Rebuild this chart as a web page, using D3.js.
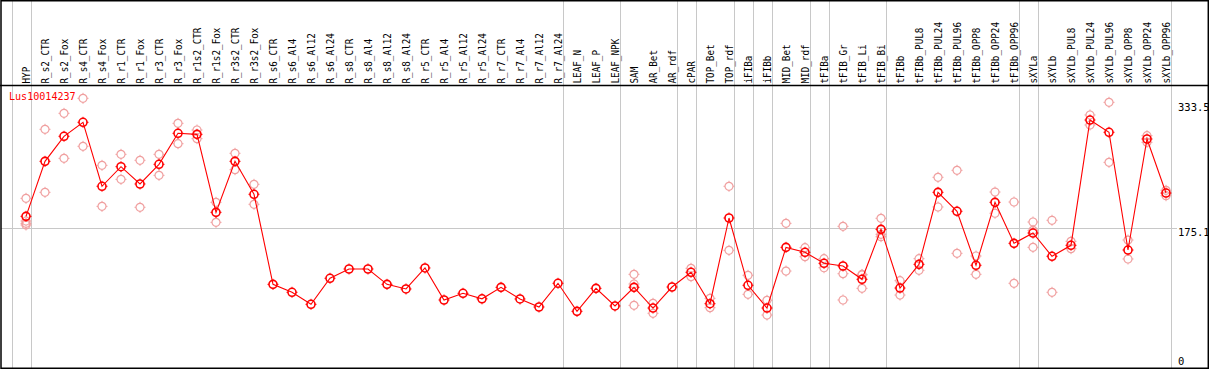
<!DOCTYPE html>
<html><head><meta charset="utf-8">
<script src="https://cdn.jsdelivr.net/npm/d3@7/dist/d3.min.js"></script>
<style>body{margin:0;background:#fff}svg{display:block}</style>
</head><body>
<svg id="c" width="1209" height="370"></svg>
<script>
const title = "Lus10014237";
const categories = ["HYP","R_s2_CTR","R_s2_Fox","R_s4_CTR","R_s4_Fox","R_r1_CTR","R_r1_Fox","R_r3_CTR","R_r3_Fox","R_r1s2_CTR","R_r1s2_Fox","R_r3s2_CTR","R_r3s2_Fox","R_s6_CTR","R_s6_Al4","R_s6_Al12","R_s6_Al24","R_s8_CTR","R_s8_Al4","R_s8_Al12","R_s8_Al24","R_r5_CTR","R_r5_Al4","R_r5_Al12","R_r5_Al24","R_r7_CTR","R_r7_Al4","R_r7_Al12","R_r7_Al24","LEAF_N","LEAF_P","LEAF_NPK","SAM","AR_Bet","AR_rdf","cPAR","TOP_Bet","TOP_rdf","iFIBa","iFIBb","MID_Bet","MID_rdf","tFIBa","tFIB_Gr","tFIB_Li","tFIB_Bi","tFIBb","tFIBb_PUL8","tFIBb_PUL24","tFIBb_PUL96","tFIBb_OPP8","tFIBb_OPP24","tFIBb_OPP96","sXYLa","sXYLb","sXYLb_PUL8","sXYLb_PUL24","sXYLb_PUL96","sXYLb_OPP8","sXYLb_OPP24","sXYLb_OPP96"];
const meanValues = [190.3,260.2,292.0,309.8,228.5,253.4,231.4,256.4,295.8,294.5,195.4,260.2,218.3,103.9,93.8,78.5,111.6,123.4,123.4,103.9,98.0,124.7,84.0,92.5,85.5,100.1,85.3,75.1,105.2,69.6,98.8,76.4,100.1,73.8,100.5,119.2,79.3,188.2,102.7,73.8,150.9,144.6,130.6,127.2,110.3,173.8,99.2,129.3,220.8,196.7,128.1,208.1,156.0,169.1,139.5,153.5,312.7,297.1,147.5,288.6,219.9];
const replicateValues = [
 [213.2,184.4,181.4,179.3],[300.9,220.8],[321.2,264.0],[340.3,279.3],[255.1,203.0],[269.1,237.3],[261.5,201.8],[269.1,242.4],[308.5,282.6],[300.0,289.0],[208.1,182.7],[270.4,249.6],[231.0,205.6],
 [],[],[],[],[],[],[],[],[],[],[],[],[],[],[],[],[],[],[],
 [116.6,104.3,77.2],[79.8,67.1],[],[124.3,113.6],[86.1,74.2],[228.5,147.1],[115.4,91.2],[83.6,64.9],[181.4,120.8],[150.5,139.0],[136.5,125.0],[177.6,117.4,84.0],[116.5,115.8,98.8],[187.8,167.5,164.4],[108.5,90.3],[136.5,121.7],[239.9,202.2],[248.8,143.3],[139.9,116.6],[221.2,194.2],[208.5,105.2],[183.1,172.5,150.9],[185.3,93.8],[158.6,149.2],[319.1,306.4],[335.2,258.9],[160.2,136.1],[292.8,284.4],[223.4,216.5]
];
const tickValues = [0, 175.1, 333.5];
const tickLabels = ["0", "175.1", "333.5"];
const gridValue = 175.1;
const groupEnds = [-1,0,28,31,34,35,37,38,39,41,42,45,52,53,60];

const W = 1209, H = 370;
const svg = d3.select("#c");
const x = d3.scaleLinear().domain([0, categories.length - 1]).range([26, 1166]);
const y = d3.scaleLinear().domain([0, 357.2]).range([366.1, 85]);
const mono = "'DejaVu Sans Mono', 'Liberation Mono', monospace";

// gridline
svg.append("line").attr("x1", 1).attr("x2", 1177)
  .attr("y1", Math.round(y(gridValue)) + 0.5).attr("y2", Math.round(y(gridValue)) + 0.5)
  .attr("stroke", "#c8c8c8").attr("stroke-width", 1).attr("shape-rendering", "crispEdges");

// group separators
svg.append("g").attr("shape-rendering", "crispEdges").selectAll("line").data(groupEnds).join("line")
  .attr("x1", d => Math.round(x(d + 0.25)) + 0.5).attr("x2", d => Math.round(x(d + 0.25)) + 0.5)
  .attr("y1", 0).attr("y2", 368).attr("stroke", "#c8c8c8").attr("stroke-width", 1);

// frame
const frame = svg.append("g").attr("stroke", "#000").attr("stroke-width", 1.5).attr("fill", "none");
frame.append("rect").attr("x", 1).attr("y", 0.75).attr("width", 1207.3).attr("height", 367.5);
frame.append("line").attr("x1", 0).attr("x2", W).attr("y1", 85.5).attr("y2", 85.5);

// category labels
svg.append("g").selectAll("text").data(categories).join("text")
  .attr("transform", (d, i) => `translate(${x(i) + 4},83.5) rotate(-90) scale(0.885,1)`)
  .attr("font-family", mono).attr("font-size", "10.5px").attr("fill", "#000")
  .attr("text-anchor", "start").text(d => d);

// title
svg.append("text").attr("x", 9).attr("y", 100.5).attr("font-family", mono)
  .attr("font-size", "10.5px").attr("fill", "#ff0000")
  .attr("transform", "translate(9,0) scale(0.96,1) translate(-9,0)").text(title);

// right axis labels
svg.append("g").selectAll("text").data(tickValues).join("text")
  .attr("x", 1178).attr("y", d => Math.min(y(d) + 7.6, 365.3))
  .attr("font-family", mono).attr("font-size", "10.5px").attr("fill", "#000")
  .text((d, i) => tickLabels[i]);

function marker(g, cx, cy, color, sw) {
  const m = g.append("g").attr("transform", `translate(${cx},${cy})`)
    .attr("stroke", color).attr("fill", "none").attr("stroke-width", sw);
  m.append("circle").attr("r", 4);
  [[0,-1],[0,1],[-1,0],[1,0]].forEach(([dx, dy]) => {
    m.append("line").attr("x1", dx * 4).attr("y1", dy * 4).attr("x2", dx * 5.5).attr("y2", dy * 5.5)
      .attr("stroke-width", 1);
  });
}

// replicates
const rg = svg.append("g");
replicateValues.forEach((reps, i) => reps.forEach(v => marker(rg, x(i), y(v), "#f0a0a0", 1.2)));

// mean line
svg.append("path").datum(meanValues)
  .attr("d", d3.line().x((d, i) => x(i)).y(d => y(d)))
  .attr("fill", "none").attr("stroke", "#ff0000").attr("stroke-width", 1.1);

const mg = svg.append("g");
meanValues.forEach((v, i) => marker(mg, x(i), y(v), "#ff0000", 1.6));
</script>
</body></html>
